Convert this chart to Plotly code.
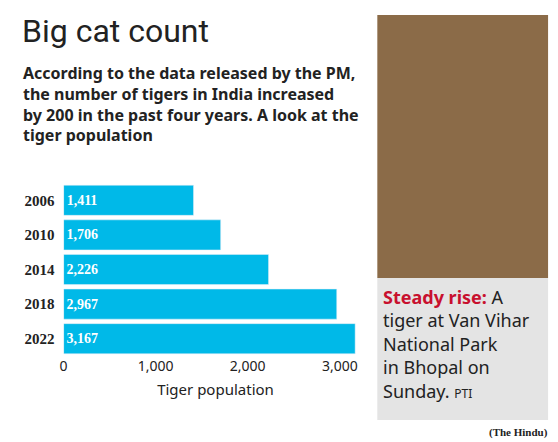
import plotly.graph_objects as go

years = ["2006", "2010", "2014", "2018", "2022"]
tigers = [1411, 1706, 2226, 2967, 3167]
labels = ["1,411", "1,706", "2,226", "2,967", "3,167"]
xticks = [0, 1000, 2000, 3000]
xticklabels = ["0", "1,000", "2,000", "3,000"]

OFF = 8
W, H = 558 - OFF, 442 - OFF
def px(x): return (x - OFF) / W
def py(y): return 1 - (y - OFF) / H

fig = go.Figure(go.Bar(
    y=years, x=tigers, orientation="h", marker_color="#00b9e8",
    width=0.87, text=labels, textposition="inside", insidetextanchor="start",
    textfont=dict(color="white", size=14, family="Liberation Serif"),
    texttemplate="<b>%{text}</b>", hoverinfo="skip"))

fig.update_layout(
    width=W, height=H, margin=dict(l=0, r=0, t=0, b=0),
    paper_bgcolor="white", plot_bgcolor="white", showlegend=False,
    xaxis=dict(domain=[px(60), px(366)], range=[0, 3300], tickvals=xticks,
               ticktext=xticklabels, showgrid=False, zeroline=False,
               tickfont=dict(size=14, family="Noto Sans", color="#222"),
               title=dict(text="Tiger population", font=dict(size=15, family="Noto Sans", color="#222"), standoff=10)),
    yaxis=dict(domain=[py(356), py(183)], autorange="reversed", showgrid=False,
               tickvals=years, ticktext=["<b>%s</b>" % y for y in years],
               tickfont=dict(size=15, family="Liberation Serif", color="#222"),
               ticklabelstandoff=8, ticks=""),
)
fig.add_shape(type="rect", xref="paper", yref="paper", x0=-0.02, x1=1, y0=py(5), y1=1.02,
              fillcolor="#666", line_width=0)
fig.add_shape(type="rect", xref="paper", yref="paper", x0=px(376), x1=px(548),
              y0=py(278), y1=py(15), fillcolor="#8b6b48", line_width=0)
fig.add_shape(type="rect", xref="paper", yref="paper", x0=px(376), x1=px(548),
              y0=py(420), y1=py(278), fillcolor="#e4e4e4", line_width=0)
fig.add_annotation(xref="paper", yref="paper", x=px(16), y=py(10), xanchor="left", yanchor="top",
                   text="Big cat count", showarrow=False,
                   font=dict(size=32, family="Roboto", color="#222"))
fig.add_annotation(xref="paper", yref="paper", x=px(17), y=py(60), xanchor="left", yanchor="top",
                   align="left", showarrow=False,
                   text="<b>According to the data released by the PM,<br>the number of tigers in India increased<br>by 200 in the past four years. A look at the<br>tiger population</b>",
                   font=dict(size=16, family="Noto Sans", color="#222"))
fig.add_annotation(xref="paper", yref="paper", x=px(380), y=py(283), xanchor="left", yanchor="top",
                   align="left", showarrow=False,
                   text="<b><span style='color:#c8102e'>Steady rise:</span></b> A<br>tiger at Van Vihar<br>National Park<br>in Bhopal on<br>Sunday. <span style='font-size:12px'>PTI</span>",
                   font=dict(size=18, family="Noto Sans", color="#222"))
fig.add_annotation(xref="paper", yref="paper", x=px(550), y=py(424), xanchor="right", yanchor="top",
                   showarrow=False, text="<b>(The Hindu)</b>",
                   font=dict(size=11, family="Liberation Serif", color="#222"))
fig.write_html("out.html")
